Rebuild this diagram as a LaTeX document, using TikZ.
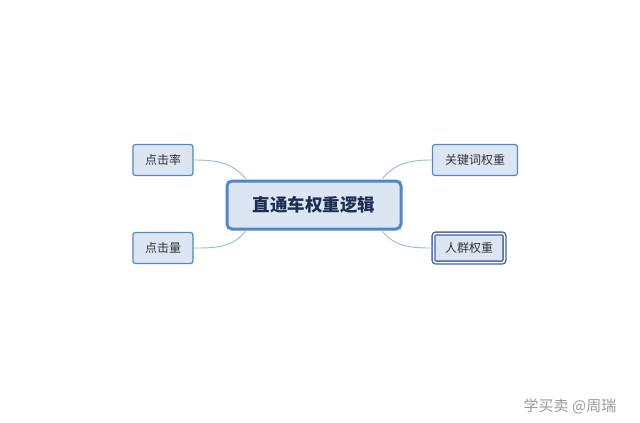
\documentclass[tikz,border=0pt]{standalone}
\usepackage{fontspec}
\setmainfont{Noto Sans CJK SC}
\definecolor{bd}{HTML}{4F86CC}
\definecolor{fl}{HTML}{DCE6F2}
\definecolor{tx}{HTML}{333333}
\definecolor{ln}{HTML}{95B8E3}
\definecolor{dk}{HTML}{3F5FAF}
\begin{document}
\begin{tikzpicture}[x=1pt,y=-1pt,
  sub/.style={draw=bd,line width=1.2pt,fill=fl,rounded corners=2.5pt,
    font=\fontsize{12}{14}\selectfont,text=tx,minimum height=31,inner xsep=8},
  link/.style={draw=ln,line width=0.9pt}]
\useasboundingbox (0,0) rectangle (640,423);
\node[draw=bd,line width=3pt,fill=fl,rounded corners=5pt,
  minimum width=174,minimum height=48,font=\fontsize{17.5}{20}\selectfont\bfseries,text=black!20!dk!60!black] (c) at (314,205) {直通车权重逻辑};
\node[sub,minimum width=60] (a) at (163,160) {点击率};
\node[sub,minimum width=60] (b) at (163,248) {点击量};
\node[sub,minimum width=85] (k) at (475,160) {关键词权重};
\node[sub,minimum width=71,minimum height=29,draw=dk,double=white,double distance=1.5pt,line width=1.4pt] (r) at (469,248) {人群权重};
\draw[link] (a.east) to[out=0,in=130] ([xshift=20,yshift=1]c.north west);
\draw[link] (b.east) to[out=0,in=-130] ([xshift=20,yshift=-1]c.south west);
\draw[link] (k.west) to[out=180,in=50] ([xshift=-20,yshift=1]c.north east);
\draw[link] (r.west) to[out=180,in=-50] ([xshift=-20,yshift=-1]c.south east);
\node[text=black!40,font=\fontsize{15}{17}\selectfont] (w) at (570,406) {学买卖 @周瑞};
\end{tikzpicture}
\end{document}
